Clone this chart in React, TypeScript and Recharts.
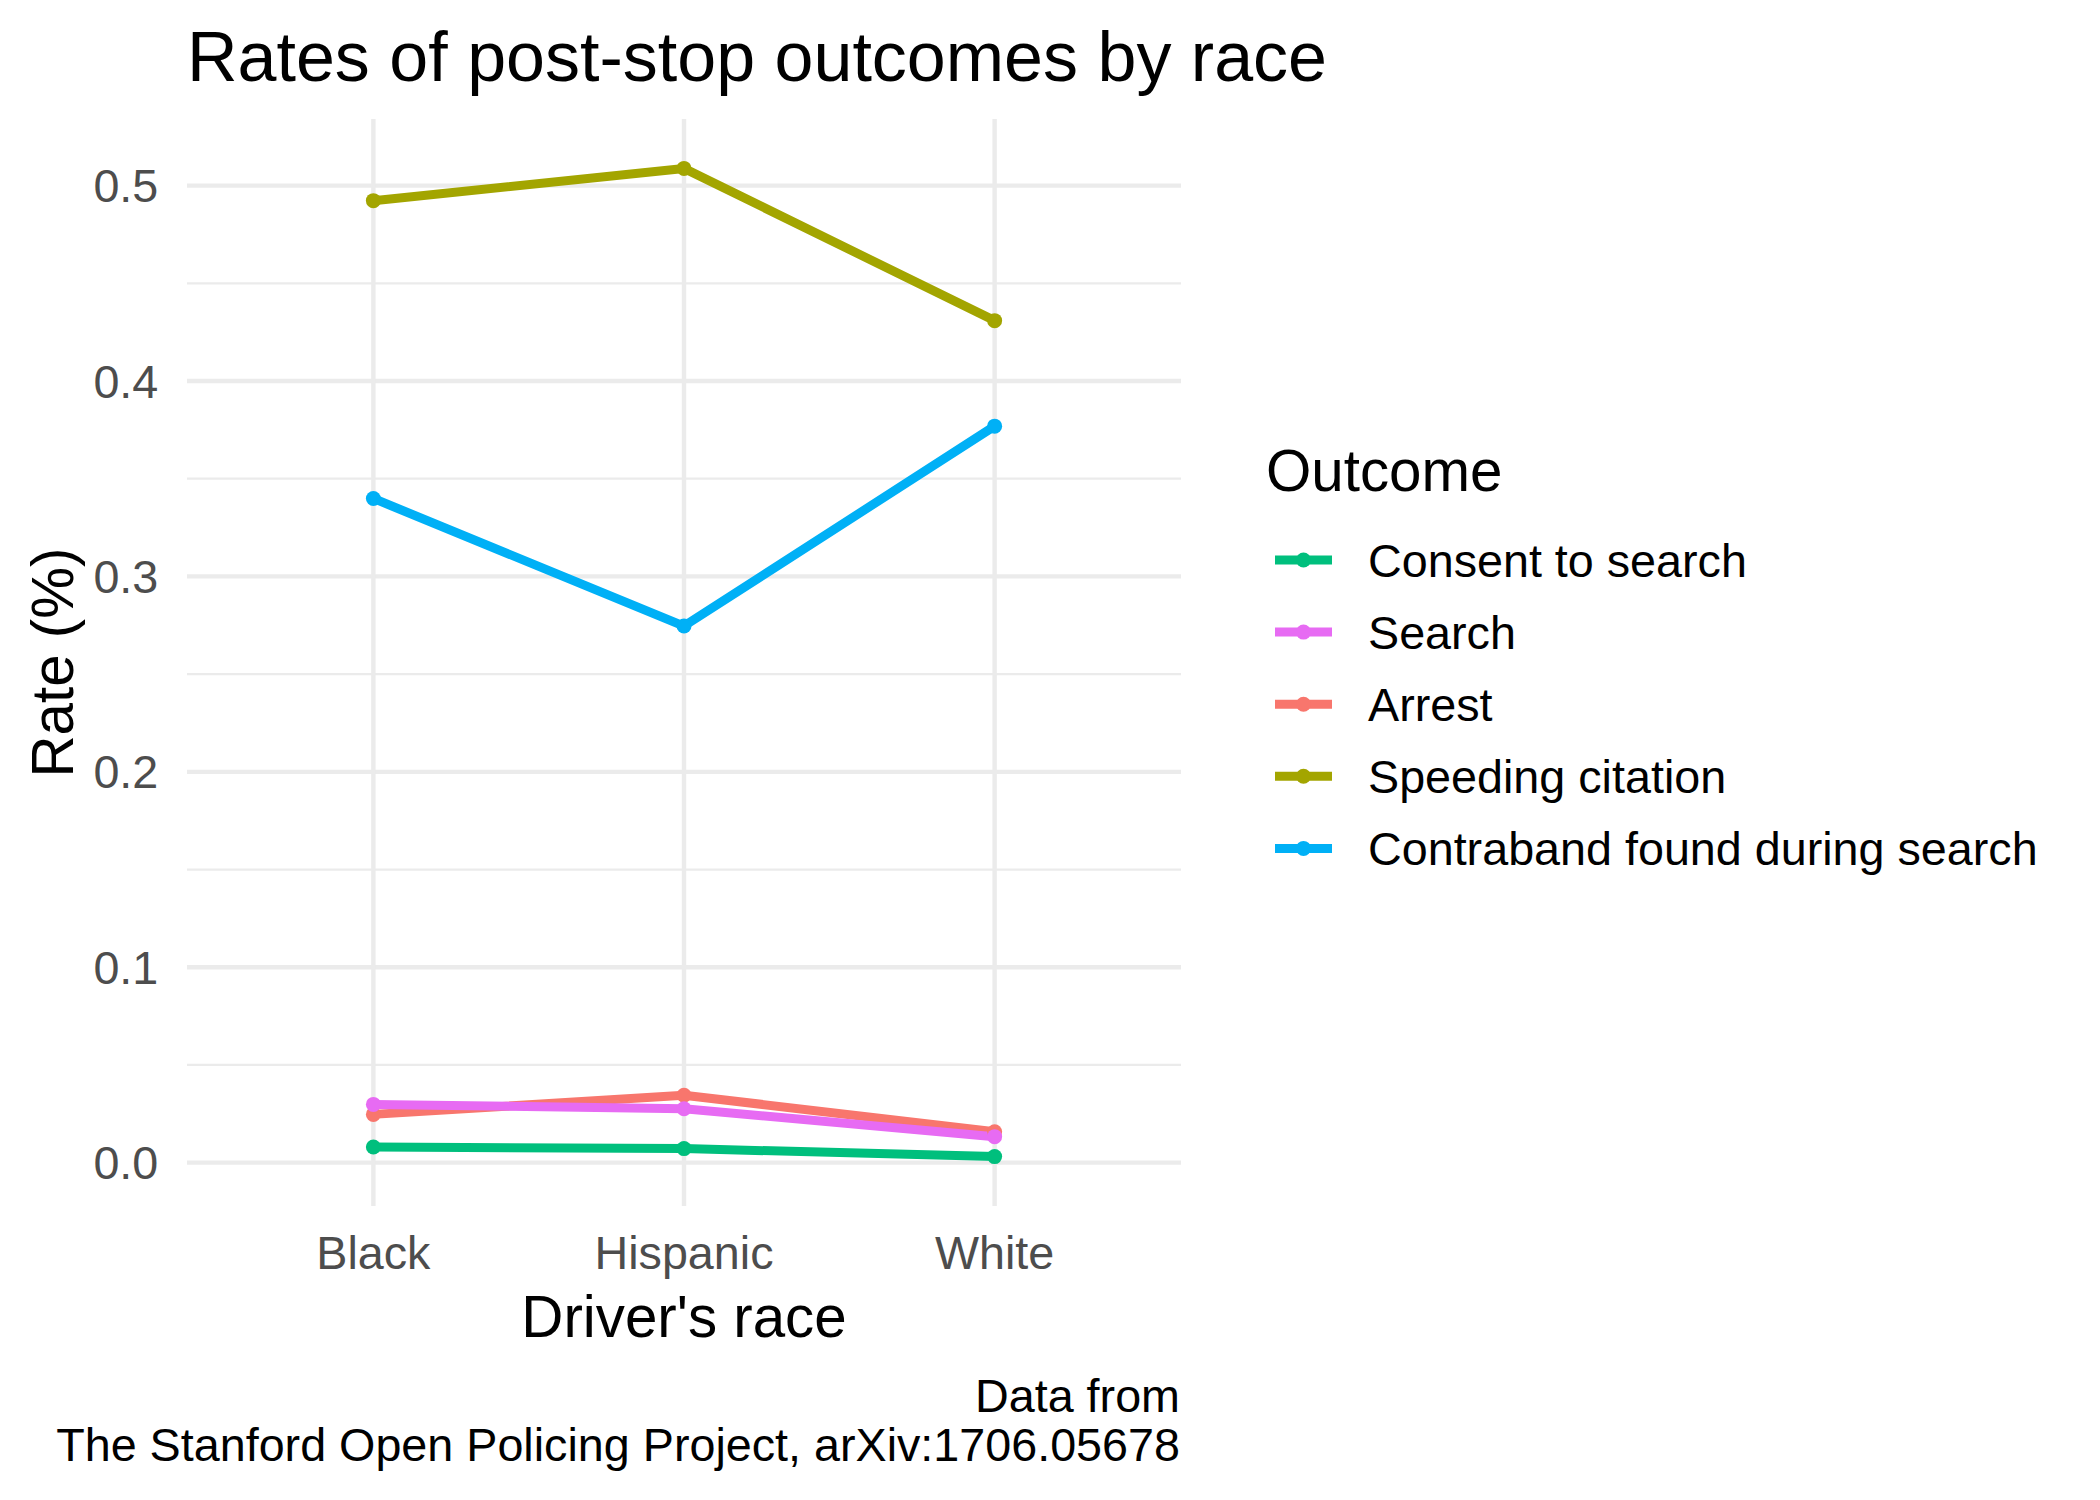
import { LineChart, Line, XAxis, YAxis, CartesianGrid, Legend } from "recharts";

const FONT = '"Liberation Sans", Arial, sans-serif';

// Driver's race categories
const RACES = ["Black", "Hispanic", "White"];

// Rates per race (Black, Hispanic, White)
const CONSENT = [0.008, 0.0072, 0.0031];
const SEARCH = [0.0298, 0.0276, 0.0133];
const ARREST = [0.0247, 0.0345, 0.0158];
const SPEEDING = [0.4923, 0.5088, 0.4309];
const CONTRABAND = [0.3399, 0.2746, 0.3769];

const Y_TICKS = [0, 0.1, 0.2, 0.3, 0.4, 0.5];
const Y_MINOR = [0.05, 0.15, 0.25, 0.35, 0.45];

// drawing order (factor levels); legend order differs
const SERIES = [
  { key: "arrest", name: "Arrest", color: "#F8766D", values: ARREST },
  { key: "consent", name: "Consent to search", color: "#00BF7D", values: CONSENT },
  { key: "contraband", name: "Contraband found during search", color: "#00B0F6", values: CONTRABAND },
  { key: "search", name: "Search", color: "#E76BF3", values: SEARCH },
  { key: "speeding", name: "Speeding citation", color: "#A3A500", values: SPEEDING },
];
const LEGEND_ORDER = [
  "Consent to search",
  "Search",
  "Arrest",
  "Speeding citation",
  "Contraband found during search",
];

const data = RACES.map((race, i) => {
  const row: Record<string, string | number> = { race };
  SERIES.forEach((s) => (row[s.key] = s.values[i]));
  return row;
});

// ggplot-style 5% expansion of the continuous y range
const allValues = SERIES.flatMap((s) => s.values);
const yMin = Math.min(...allValues);
const yMax = Math.max(...allValues);
const yPad = (yMax - yMin) * 0.05;
const Y_DOMAIN = [yMin - yPad, yMax + yPad];

// plot panel geometry
const W = 2100;
const H = 1500;
const PANEL = { left: 187, right: 1181, top: 119, bottom: 1206 };
const Y_AXIS_W = 120;
const X_AXIS_H = 100;
const X_PAD = ((PANEL.right - PANEL.left) * 0.6) / 3.2;

const GRID = "#EBEBEB";
const AXIS_TEXT = "#4D4D4D";

function OutcomeLegend({ payload }: any) {
  const items = LEGEND_ORDER.map((n) => (payload ?? []).find((p: any) => p.value === n)).filter(
    Boolean
  );
  return (
    <svg width={820} height={460} style={{ display: "block", fontFamily: FONT }}>
      <text x={16} y={61} fontSize={58.3} fill="#000">
        Outcome
      </text>
      {items.map((p: any, i: number) => {
        const cy = 130 + i * 72.1;
        return (
          <g key={p.value}>
            <line x1={25} x2={82} y1={cy} y2={cy} stroke={p.color} strokeWidth={9} />
            <circle cx={53.5} cy={cy} r={7.5} fill={p.color} />
            <text x={118} y={cy + 16.8} fontSize={46.7} fill="#000">
              {p.value}
            </text>
          </g>
        );
      })}
    </svg>
  );
}

export default function App() {
  const midX = (PANEL.left + PANEL.right) / 2;
  const midY = (PANEL.top + PANEL.bottom) / 2;
  return (
    <div
      style={{
        position: "absolute",
        left: 0,
        top: 0,
        width: W,
        height: H,
        background: "#fff",
        fontFamily: FONT,
      }}
    >
      <LineChart
        width={W}
        height={H}
        data={data}
        margin={{
          top: PANEL.top,
          right: W - PANEL.right,
          bottom: H - PANEL.bottom - X_AXIS_H,
          left: PANEL.left - Y_AXIS_W,
        }}
      >
        <CartesianGrid
          horizontalValues={Y_MINOR}
          vertical={false}
          syncWithTicks
          stroke={GRID}
          strokeWidth={2.2}
        />
        <CartesianGrid
          horizontalValues={Y_TICKS}
          syncWithTicks
          stroke={GRID}
          strokeWidth={4.4}
        />
        <XAxis
          dataKey="race"
          type="category"
          scale="point"
          height={X_AXIS_H}
          padding={{ left: X_PAD, right: X_PAD }}
          axisLine={false}
          tickLine={false}
          tickSize={0}
          tickMargin={29.8}
          tick={{ fill: AXIS_TEXT, fontSize: 46.7, fontFamily: FONT }}
        />
        <YAxis
          type="number"
          domain={Y_DOMAIN}
          ticks={Y_TICKS}
          allowDataOverflow
          width={Y_AXIS_W}
          axisLine={false}
          tickLine={false}
          tickSize={0}
          tickMargin={28.7}
          tickFormatter={(v: number) => v.toFixed(1)}
          tick={{ fill: AXIS_TEXT, fontSize: 46.7, fontFamily: FONT }}
        />
        {SERIES.map((s) => (
          <Line
            key={s.key}
            type="linear"
            dataKey={s.key}
            name={s.name}
            stroke={s.color}
            strokeWidth={9}
            strokeLinejoin="round"
            dot={{ r: 7.5, fill: s.color, stroke: s.color, strokeWidth: 0 }}
            activeDot={false}
            isAnimationActive={false}
          />
        ))}
        <Legend
          layout="vertical"
          align="center"
          verticalAlign="middle"
          width={820}
          height={460}
          wrapperStyle={{ left: 1250, top: 430, width: 820, height: 460 }}
          content={OutcomeLegend}
        />
      </LineChart>
      <svg
        width={W}
        height={H}
        style={{ position: "absolute", left: 0, top: 0, pointerEvents: "none" }}
        fontFamily={FONT}
      >
        <text x={PANEL.left} y={81} fontSize={70} fill="#000">
          Rates of post-stop outcomes by race
        </text>
        <text
          transform={`translate(72.7, ${midY}) rotate(-90)`}
          textAnchor="middle"
          fontSize={58.3}
          fill="#000"
        >
          Rate (%)
        </text>
        <text x={midX} y={1336.7} textAnchor="middle" fontSize={58.3} fill="#000">
          Driver's race
        </text>
        <text x={PANEL.right - 1} y={1412} textAnchor="end" fontSize={46.7} fill="#000">
          Data from
        </text>
        <text x={PANEL.right - 1} y={1461} textAnchor="end" fontSize={46.7} fill="#000">
          The Stanford Open Policing Project, arXiv:1706.05678
        </text>
      </svg>
    </div>
  );
}
